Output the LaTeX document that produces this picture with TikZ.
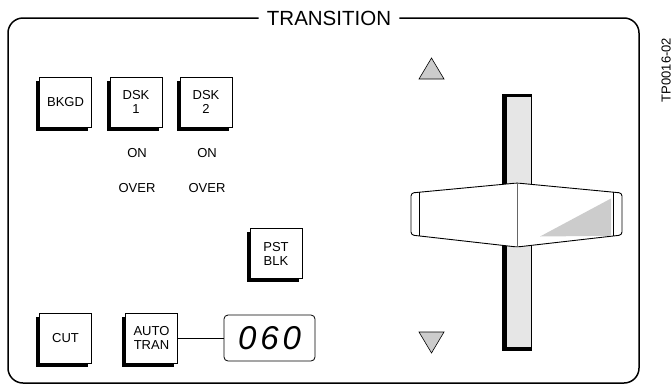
\documentclass[tikz,border=0pt]{standalone}
\usepackage{fontspec}
\setmainfont{Liberation Sans}
\usetikzlibrary{shadows}
\definecolor{trackgray}{HTML}{E6E6E6}
\definecolor{midgray}{HTML}{CCCCCC}
\tikzset{
  btn/.style={draw=black, line width=0.8pt, fill=white, minimum width=52pt, minimum height=50pt,
    inner sep=0pt, align=center, font=\fontsize{13}{14}\selectfont,
    drop shadow={shadow xshift=-3.5pt, shadow yshift=-3.5pt, fill=black, opacity=1}},
  lbl/.style={font=\fontsize{13}{14}\selectfont, inner sep=0pt},
  frame/.style={line width=1.5pt, rounded corners=15pt},
  arrowtri/.style={draw=black, line width=0.6pt, fill=midgray}
}
\begin{document}
\begin{tikzpicture}[x=1pt,y=-1pt]
\useasboundingbox (0,0) rectangle (672,386);
% frame and title
\node[font=\fontsize{20.5}{22}\selectfont, inner xsep=8pt, inner ysep=0pt] (title) at (329,18.5) {TRANSITION};
\draw[frame] (title.west |- 0,18) -| (8,383) -| (639,18) -- (title.east |- 0,18);
% buttons
\node[btn] (bkgd) at (65.5,102) {BKGD};
\node[btn] (dsk1) at (136,102) {DSK\\1};
\node[btn] (dsk2) at (206,102) {DSK\\2};
\node[lbl] (on1) at (137,153) {ON};
\node[lbl] (on2) at (207,153) {ON};
\node[lbl] (over1) at (137,188) {OVER};
\node[lbl] (over2) at (207,188) {OVER};
\node[btn] (pst) at (276,253.5) {PST\\BLK};
\node[btn] (cut) at (65.5,338) {CUT};
\node[btn] (auto) at (151.5,338) {AUTO\\TRAN};
\node[draw=black, line width=0.8pt, rounded corners=4pt, minimum width=91pt, minimum height=46pt, inner sep=0pt,
  font=\fontsize{33}{34}\selectfont\itshape\addfontfeatures{LetterSpace=12}] (disp) at (269.5,338) {060};
\draw[line width=0.8pt] (auto.east) -- (disp.west);
% arrows
\draw[arrowtri] (419,79) -- (444,79) -- (431.5,58) -- cycle;
\draw[arrowtri] (419,332) -- (444,332) -- (431.5,353) -- cycle;
% track
\draw[fill=trackgray, line width=0.8pt] (502,94) rectangle (531,350);
\fill[black] (502,94) rectangle (507,350);
\fill[black] (502,93.5) rectangle (531,97);
\fill[black] (502,346.5) rectangle (531,350.5);
% handle
\draw[fill=white, line width=0.9pt, rounded corners=3pt]
  (517,183) -- (622,193) -- (622,235) -- (517,247) -- (411,235) -- (411,193) -- cycle;
\fill[midgray] (540,236.5) -- (611,198.5) -- (611,235.8) -- cycle;
\draw[line width=0.8pt] (419,192.3) -- (419,235.9);
\draw[line width=0.8pt] (613,192.1) -- (613,236);
\draw[line width=0.6pt, black!60] (517,183) -- (517,247);
% figure id
\node[rotate=90, anchor=base, font=\fontsize{13}{14}\selectfont, inner sep=0pt] (figid) at (670.5,70) {TP0016-02};
\end{tikzpicture}
\end{document}
